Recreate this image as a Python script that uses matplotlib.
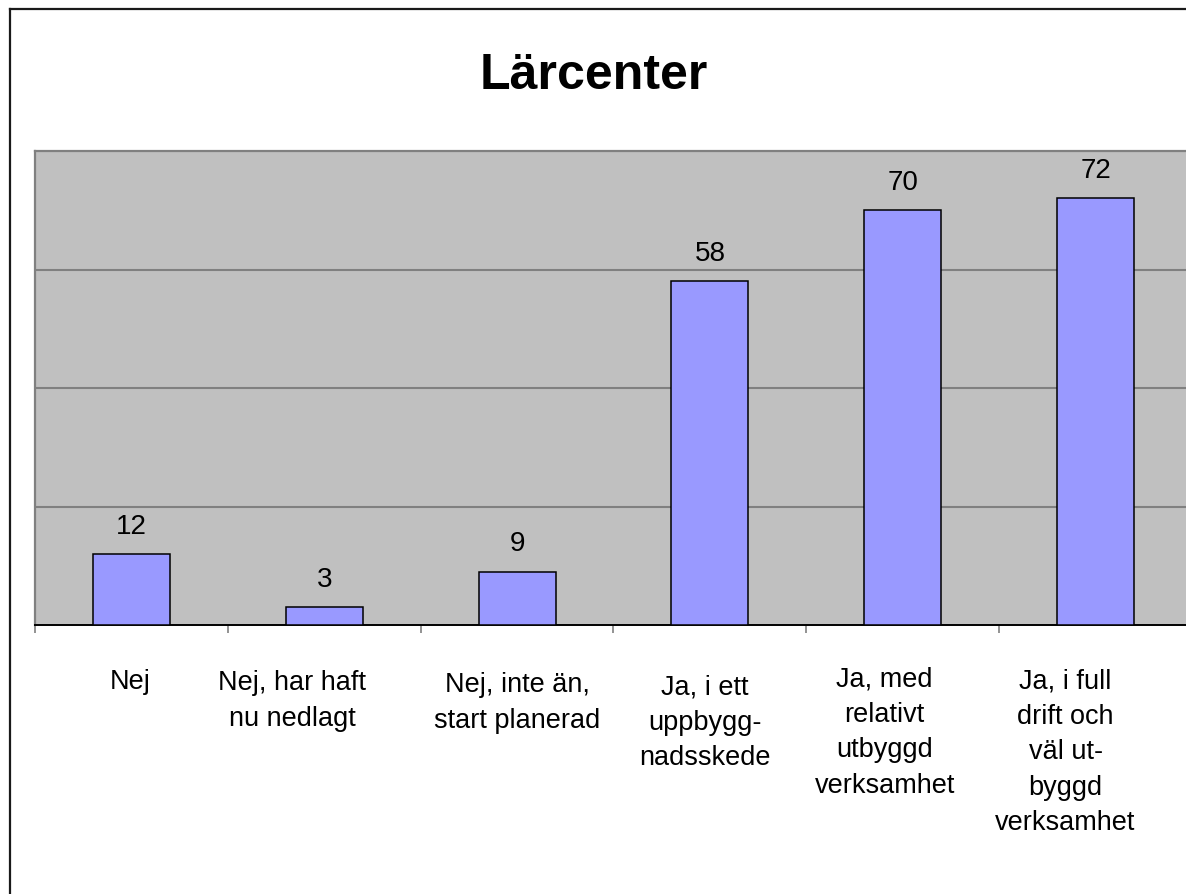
import numpy as np
import matplotlib
matplotlib.use("Agg")
import matplotlib.pyplot as plt
from matplotlib.lines import Line2D
from matplotlib.transforms import ScaledTranslation

plt.rcParams['font.family'] = ['Liberation Sans', 'DejaVu Sans']

categories = ["Nej", "Nej, har haft\nnu nedlagt", "Nej, inte än,\nstart planerad",
              "Ja, i ett\nuppbygg-\nnadsskede", "Ja, med\nrelativt\nutbyggd\nverksamhet",
              "Ja, i full\ndrift och\nväl ut-\nbyggd\nverksamhet"]
values = [12, 3, 9, 58, 70, 72]
title = "Lärcenter"

# small nudges (pixels) of the category labels, as in the original layout
label_dx = [-1, -32, 0, -5, -18, -30]
label_dy = [0, -1, -3, -5, 3, 1]

W, H = 1186, 895
dpi = 100
fig = plt.figure(figsize=(W / dpi, H / dpi), dpi=dpi)

# outer chart border (only top and left visible, chart is cropped)
bx, by = 9.5 / W, 1 - 9.5 / H
fig.add_artist(Line2D([bx, bx], [0, by], transform=fig.transFigure, color="#1a1a1a", lw=1.6))
fig.add_artist(Line2D([bx, 1], [by, by], transform=fig.transFigure, color="#1a1a1a", lw=1.6))

ax = fig.add_axes([35 / W, 1 - 626 / H, 1157 / W, 474 / H])
ax.set_facecolor("#c0c0c0")

x = np.arange(len(values))
bars = ax.bar(x, values, width=0.4, color="#9999ff", edgecolor="black", linewidth=1.1, zorder=3)
for xi, v in zip(x, values):
    ax.annotate(str(v), (xi, v), xytext=(0, 11), textcoords="offset points",
                ha="center", va="bottom", fontsize=20)

ax.set_xlim(-0.5, len(values) - 0.5)
ax.set_ylim(0, 80)
ax.set_yticks([20, 40, 60])
ax.yaxis.grid(True, color="#808080", lw=1.5, zorder=1)
ax.tick_params(axis="y", length=0, labelleft=False)

ax.set_xticks(x)
ax.set_xticklabels(categories, fontsize=19.5, linespacing=1.48, va="top")
ax.set_xticks(np.arange(-0.5, len(values), 1), minor=True)
ax.tick_params(axis="x", which="major", length=0, pad=31)
ax.tick_params(axis="x", which="minor", length=6, width=1.2, color="#808080", direction="out")
for lbl, dx, dy in zip(ax.get_xticklabels(), label_dx, label_dy):
    lbl.set_transform(lbl.get_transform() + ScaledTranslation(dx / dpi, dy / dpi, fig.dpi_scale_trans))

for s in ["left", "top"]:
    ax.spines[s].set_color("#808080")
    ax.spines[s].set_linewidth(1.6)
ax.spines["right"].set_visible(False)
ax.spines["bottom"].set_color("black")
ax.spines["bottom"].set_linewidth(1.4)

fig.text(0.5004, 1 - 89 / H, title, ha="center", va="baseline", fontsize=36, fontweight="bold")

fig.savefig("out.png", dpi=dpi)
